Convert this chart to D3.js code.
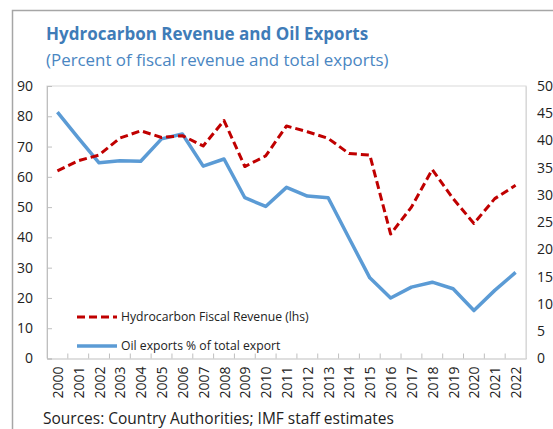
<!DOCTYPE html>
<html><head><meta charset="utf-8">
<script src="https://cdn.jsdelivr.net/npm/d3@7"></script>
<style>
body{margin:0;background:#fff;}
svg{display:block;font-family:"Open Sans","Noto Sans",sans-serif;}
</style></head>
<body><svg id="c" width="553" height="429"></svg>
<script>
const years = ["2000","2001","2002","2003","2004","2005","2006","2007","2008","2009","2010","2011","2012","2013","2014","2015","2016","2017","2018","2019","2020","2021","2022"];
const hydrocarbonRevenue = [62,65.3,67.2,72.8,75.2,73,73.6,70.2,78.6,63.4,66.9,76.8,74.9,72.7,67.7,67.2,41.1,50,62.4,52.8,44.6,52.8,57.2];
const oilExports = [45.2,40.5,35.9,36.3,36.2,40.3,41.2,35.3,36.6,29.5,27.9,31.4,29.8,29.5,22.1,14.8,11.1,13.1,14.0,12.8,8.8,12.5,15.8];
const leftTicks = [0,10,20,30,40,50,60,70,80,90];
const rightTicks = [0,5,10,15,20,25,30,35,40,45,50];
const seriesNames = ["Hydrocarbon Fiscal Revenue (lhs)","Oil exports % of total export"];
const titleText = "Hydrocarbon Revenue and Oil Exports";
const subtitleText = "(Percent of fiscal revenue and total exports)";
const sourceText = "Sources: Country Authorities; IMF staff estimates";

const svg = d3.select("#c");
const L=47, R=526, T=86, B=358.5;
const x = d3.scaleBand().domain(years).range([L,R]);
const yL = d3.scaleLinear().domain([0,90]).range([B,T]);
const yR = d3.scaleLinear().domain([0,50]).range([B,T]);

// outer frame
svg.append("path").attr("d","M12.5,429 V10.5 H553").attr("fill","none").attr("stroke","#a6a6a6").attr("stroke-width",1.5);

// titles
svg.append("text").attr("x",46).attr("y",40).attr("fill","#3f7cb8").attr("font-weight","bold").attr("font-size",17).text(titleText);
svg.append("text").attr("x",46).attr("y",66).attr("fill","#4a86c2").attr("font-size",16.9).text(subtitleText);

// plot frame
svg.append("path").attr("d",`M${L},${B} V${T} H${R} V${B}`).attr("fill","none").attr("stroke","#d9d9d9").attr("stroke-width",1.2);

// left axis
const gL = svg.append("g").attr("transform",`translate(${L},0)`)
  .call(d3.axisLeft(yL).tickValues(leftTicks).tickSize(-5).tickPadding(14).tickFormat(d3.format("d")));
gL.select(".domain").attr("stroke","#bfbfbf");
gL.selectAll(".tick line").attr("stroke","#bfbfbf");
gL.selectAll(".tick text").attr("font-size",14).attr("fill","#222").attr("font-family","Open Sans");

// right axis
const gR = svg.append("g").attr("transform",`translate(${R},0)`)
  .call(d3.axisRight(yR).tickValues(rightTicks).tickSize(0).tickPadding(11).tickFormat(d3.format("d")));
gR.select(".domain").attr("stroke","#d9d9d9");
gR.selectAll(".tick text").attr("font-size",14).attr("fill","#222").attr("font-family","Open Sans");

// bottom axis
const gB = svg.append("g").attr("transform",`translate(0,${B})`)
  .call(d3.axisBottom(x).tickSize(0).tickPadding(0));
gB.select(".domain").attr("stroke","#bfbfbf").attr("stroke-width",1.2);
gB.selectAll(".tick text").attr("font-size",14).attr("fill","#222").attr("font-family","Open Sans")
  .attr("text-anchor","end").attr("dominant-baseline","central")
  .attr("transform","translate(0,8) rotate(-90)").attr("x",0).attr("y",0).attr("dy",null);
// between-category ticks, pointing up
svg.append("g").selectAll("line").data(years.slice(1)).join("line")
  .attr("x1",d=>x(d)).attr("x2",d=>x(d)).attr("y1",B).attr("y2",B-5)
  .attr("stroke","#bfbfbf");

// lines
const lineRev = d3.line().x((d,i)=>x(years[i])+x.bandwidth()/2).y(d=>yL(d));
const lineOil = d3.line().x((d,i)=>x(years[i])+x.bandwidth()/2).y(d=>yR(d));
svg.append("path").attr("d",lineOil(oilExports)).attr("fill","none").attr("stroke","#5b9bd5").attr("stroke-width",3.5).attr("stroke-linejoin","round");
svg.append("path").attr("d",lineRev(hydrocarbonRevenue)).attr("fill","none").attr("stroke","#c00000").attr("stroke-width",3).attr("stroke-dasharray","8,4").attr("stroke-linejoin","round");

// legend
const leg = svg.append("g");
leg.append("line").attr("x1",77).attr("x2",117).attr("y1",317).attr("y2",317).attr("stroke","#c00000").attr("stroke-width",3).attr("stroke-dasharray","8,4");
leg.append("text").attr("x",121).attr("y",317).attr("dy","0.35em").attr("font-size",12.2).attr("fill","#222").text(seriesNames[0]);
leg.append("line").attr("x1",77).attr("x2",117).attr("y1",346).attr("y2",346).attr("stroke","#5b9bd5").attr("stroke-width",3.5);
leg.append("text").attr("x",121).attr("y",346).attr("dy","0.35em").attr("font-size",12.2).attr("fill","#222").text(seriesNames[1]);

// source
svg.append("text").attr("x",43).attr("y",424).attr("font-size",15.5).attr("fill","#222").text(sourceText);
</script></body></html>
